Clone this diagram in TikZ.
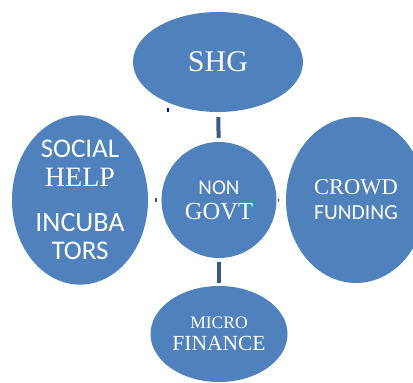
\documentclass[tikz,border=0pt]{standalone}
\usepackage{fontspec}
\setmainfont{Liberation Serif}
\newfontfamily\calibri{Carlito}
\usepackage{tikz}
\usetikzlibrary{shapes.geometric}
\definecolor{bubbleblue}{RGB}{79,129,189}
\definecolor{linkblue}{RGB}{58,90,132}

\begin{document}
\begin{tikzpicture}[
    x=1pt, y=-1pt,
    bubble/.style={ellipse, fill=bubbleblue, text=white, inner sep=0pt, align=center},
    link/.style={draw=linkblue, line width=4pt},
    tick/.style={draw=linkblue, line width=3.5pt}
]
\useasboundingbox (0,0) rectangle (413,383);
\clip (0,0) rectangle (413,383);
\node[bubble, minimum width=170pt, minimum height=100pt,
      font=\fontsize{30}{30}\selectfont] (shg) at (218,62) {SHG};
\node[bubble, minimum width=115pt, minimum height=116pt,
      font=\fontsize{20}{25}\selectfont] (ngo) at (219,200)
    {\calibri\fontsize{21}{25}\selectfont NON\\
     \fontsize{24.5}{25}\selectfont GOVT};
\node[bubble, minimum width=136pt, minimum height=156pt,
      font=\fontsize{20}{28.5}\selectfont] (social) at (80,200)
    {\calibri\fontsize{27}{28.5}\selectfont SOCIAL\\
     \fontsize{28}{28.5}\selectfont HELP\\[16.5pt]
     \calibri\fontsize{28}{28.5}\selectfont INCUBA\\
     \calibri\fontsize{27}{28.5}\selectfont TORS};
\node[bubble, minimum width=140pt, minimum height=166pt,
      font=\fontsize{20}{25}\selectfont] (crowd) at (356,200)
    {\fontsize{22.5}{25}\selectfont CROWD\\
     \calibri\fontsize{21.5}{25}\selectfont FUNDING};
\node[bubble, minimum width=137pt, minimum height=96pt,
      font=\fontsize{20}{21.5}\selectfont] (micro) at (219,334)
    {\fontsize{17.5}{21.5}\selectfont MICRO\\
     \fontsize{21.5}{21.5}\selectfont FINANCE};
% short connectors between the bubbles
\draw[link, shorten <=5pt, shorten >=4pt] (shg) -- (ngo);
\draw[link, shorten <=4pt, shorten >=3pt] (ngo) -- (micro);
\draw[tick, shorten <=7pt, shorten >=4pt] (social) -- (ngo);
\draw[tick, line width=3pt, shorten <=1.5pt, shorten >=7pt] (ngo) -- (crowd);
% stray mark under the top bubble
\fill[blue] (167,107.5) rectangle (168.8,112);
\end{tikzpicture}
\end{document}
